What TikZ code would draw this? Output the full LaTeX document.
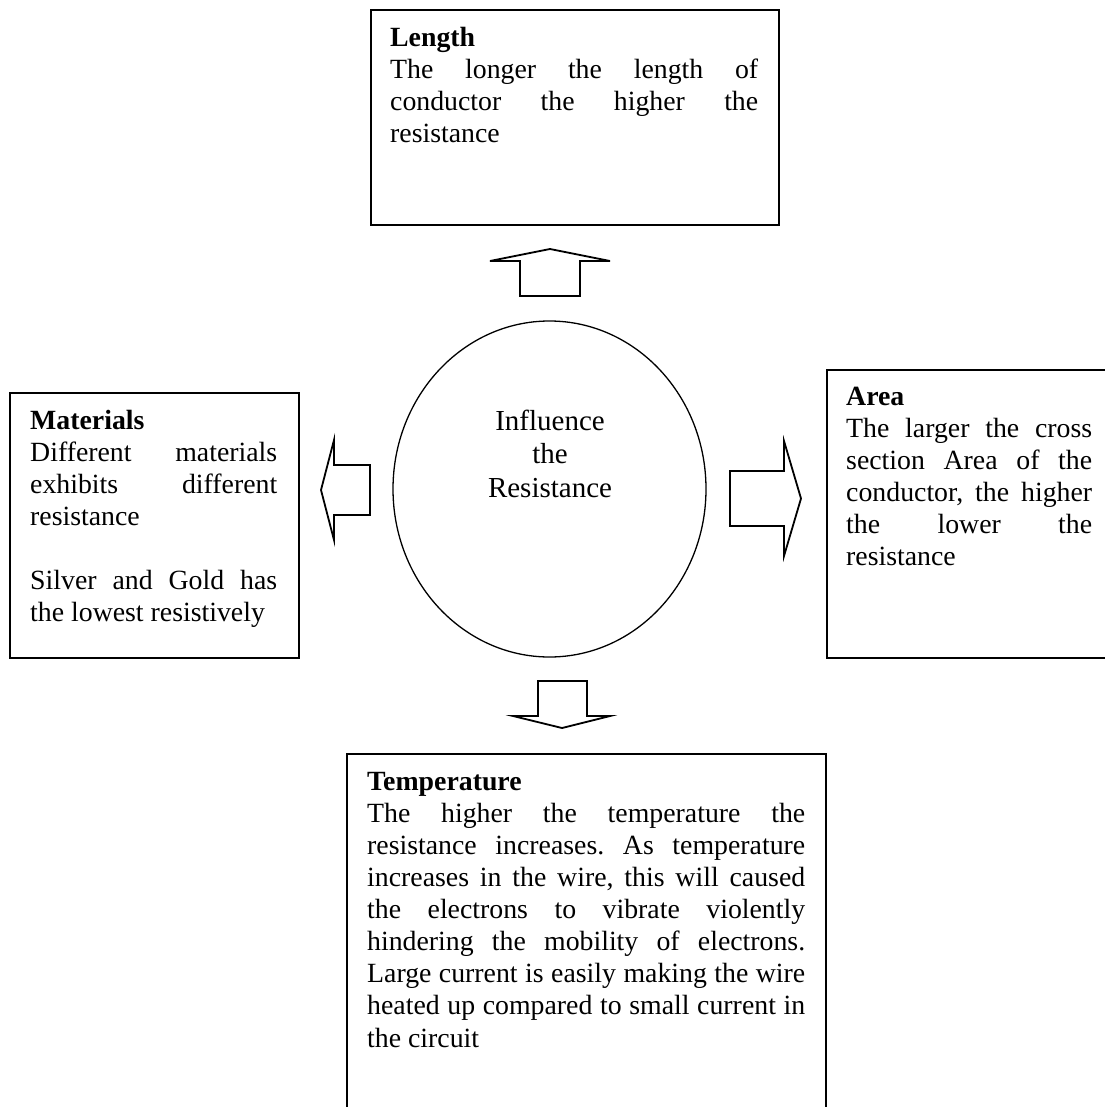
\documentclass[tikz,border=0pt]{standalone}
\usepackage{fontspec}
\setmainfont{Liberation Serif}
\usetikzlibrary{shapes.geometric}
\frenchspacing
\begin{document}
\begin{tikzpicture}[x=1pt,y=-1pt,
  box/.style={draw, line width=2pt, inner sep=0pt, anchor=north west},
  txt/.style={anchor=north west, inner sep=0pt, align=left, font=\fontsize{27.8}{32.1}\selectfont},
  shp/.style={draw, line width=1.8pt, fill=white, line join=miter}]
\useasboundingbox[fill=white] (0,0) rectangle (1104,1107);

% boxes
\node[box, minimum width=408pt, minimum height=215pt] (lenbox) at (370,9) {};
\node[box, minimum width=289pt, minimum height=265pt] (matbox) at (9,392) {};
\node[box, minimum width=290pt, minimum height=288pt] (areabox) at (826,369) {};
\node[box, minimum width=479pt, minimum height=370pt] (tempbox) at (346,753) {};

% texts
\node[txt] (lentxt) at (390,23.53) {\strut\textbf{Length}\\
\makebox[368pt][s]{The longer the length of}\\
\makebox[368pt][s]{conductor the higher the}\\
resistance};

\node[txt] (mattxt) at (30,406.53) {\strut\textbf{Materials}\\
\makebox[247pt][s]{Different materials}\\
\makebox[247pt][s]{exhibits different}\\
resistance\\
\mbox{}\\
\makebox[247pt][s]{Silver and Gold has}\\
the lowest resistively};

\node[txt] (areatxt) at (846,382.53) {\strut\textbf{Area}\\
\makebox[246pt][s]{The larger the cross}\\
\makebox[246pt][s]{section Area of the}\\
\makebox[246pt][s]{conductor, the higher}\\
\makebox[246pt][s]{the lower the}\\
resistance};

\node[txt] (temptxt) at (367,767.53) {\strut\textbf{Temperature}\\
\makebox[438pt][s]{The higher the temperature the}\\
\makebox[438pt][s]{resistance increases. As temperature}\\
\makebox[438pt][s]{increases in the wire, this will caused}\\
\makebox[438pt][s]{the electrons to vibrate violently}\\
\makebox[438pt][s]{hindering the mobility of electrons.}\\
\makebox[438pt][s]{Large current is easily making the wire}\\
\makebox[438pt][s]{heated up compared to small current in}\\
the circuit};

% centre
\node[draw, ellipse, line width=1.3pt, minimum width=313pt, minimum height=336pt, inner sep=0pt] (infl) at (549.5,489) {};
\node[anchor=north, align=center, inner sep=0pt, font=\fontsize{29}{33.5}\selectfont] (infltxt) at (550,406.5) {\strut Influence\\the\\Resistance};

% block arrows
\draw[shp] (550,249) -- (610,261) -- (580,261) -- (580,296) -- (520,296) -- (520,261) -- (490,261) -- cycle;
\draw[shp] (562,728) -- (513,716) -- (538,716) -- (538,681) -- (587,681) -- (587,716) -- (610,716) -- cycle;
\draw[shp] (321,490) -- (334,440) -- (334,465) -- (370,465) -- (370,515) -- (334,515) -- (334,540) -- cycle;
\draw[shp] (801,498.5) -- (784,441) -- (784,471) -- (730,471) -- (730,526) -- (784,526) -- (784,556) -- cycle;
\end{tikzpicture}
\end{document}
